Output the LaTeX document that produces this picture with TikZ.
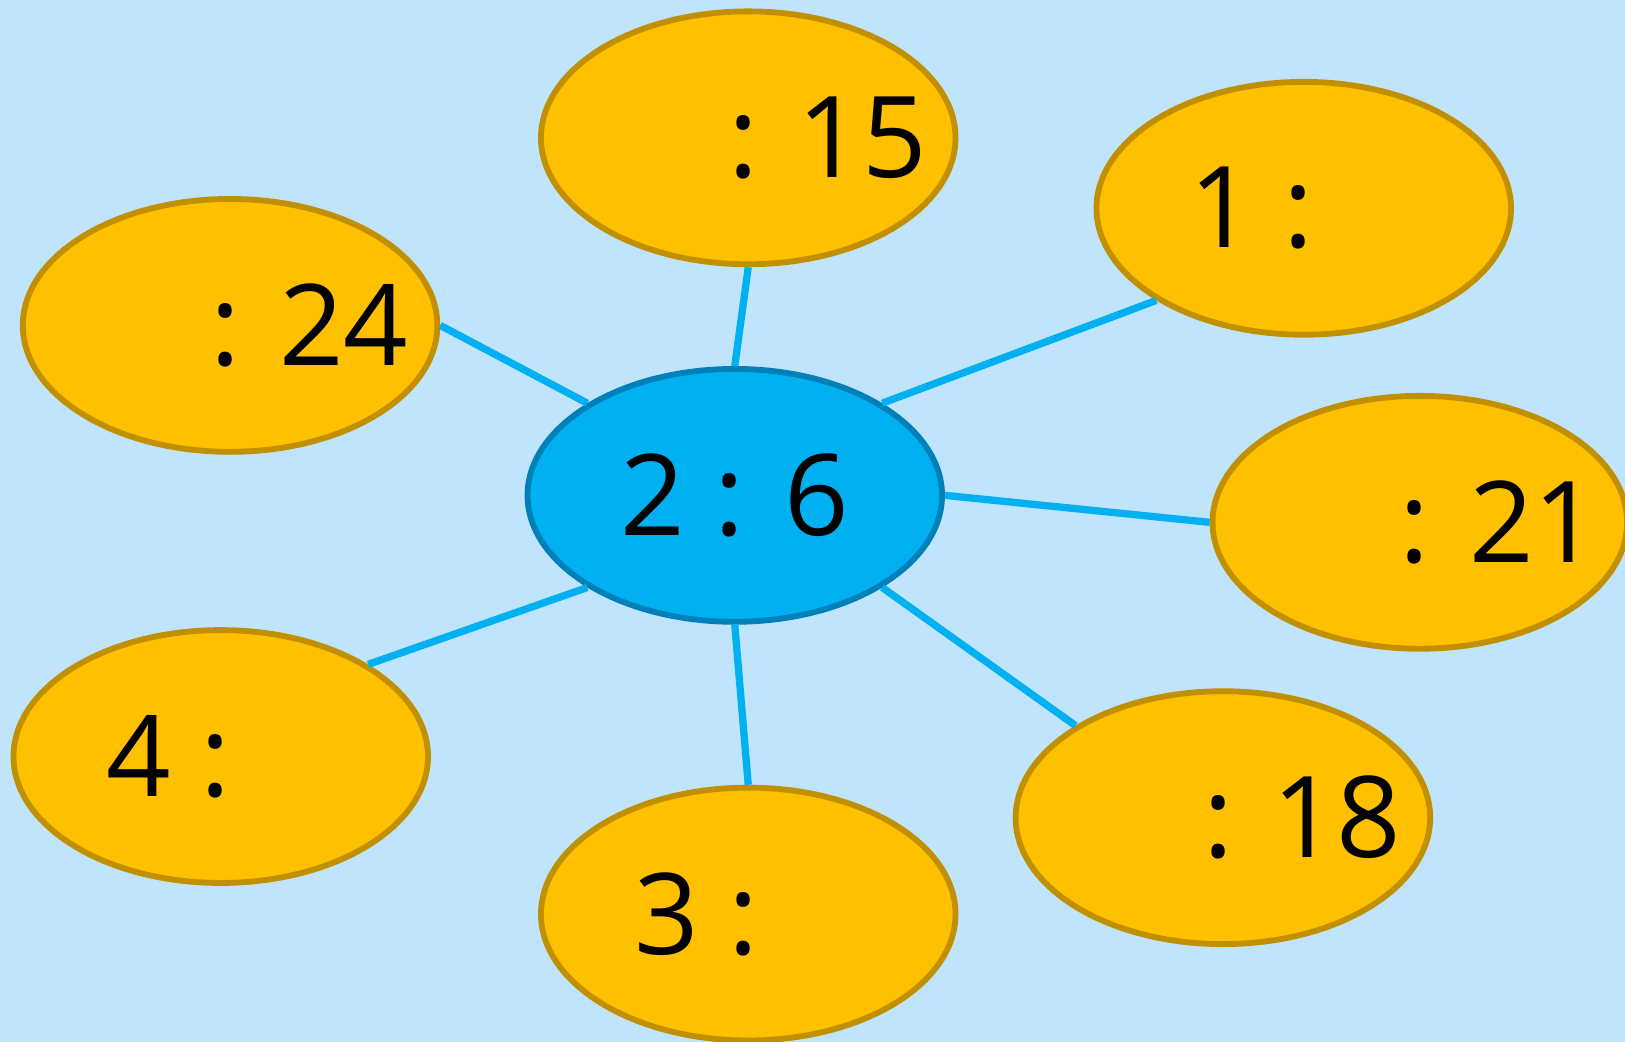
\documentclass[tikz,border=0pt]{standalone}
\usepackage{fontspec}
\setmainfont{Open Sans}
\usetikzlibrary{shapes.geometric}

\definecolor{bgblue}{HTML}{C0E4FC}
\definecolor{hubblue}{HTML}{00B0F0}
\definecolor{hubedge}{HTML}{0080B8}
\definecolor{leafgold}{HTML}{FFC000}
\definecolor{leafedge}{HTML}{C09000}

\newcommand{\lbl}[1]{\makebox[0pt]{#1}}

\tikzset{
  leaf/.style={ellipse, draw=leafedge, fill=leafgold, line width=1.6pt,
    minimum width=4cm, minimum height=2.44cm, inner sep=0pt,
    font=\fontsize{31}{36}\selectfont},
  hub/.style={leaf, draw=hubedge, fill=hubblue},
  spoke/.style={hubblue, line width=2pt}
}

\begin{document}
\begin{tikzpicture}
        % Background
        \fill[bgblue] (0,0) rectangle (15.68,10.05);
        \useasboundingbox (0,0) rectangle (15.68,10.05);

        % Points
        \coordinate (C) at (7.09,5.27);
        \coordinate (P15) at (7.22,8.72);
        \coordinate (P1) at (12.58,8.04);
        \coordinate (P24) at (2.22,6.91);
        \coordinate (P21) at (13.70,5.01);
        \coordinate (P18) at (11.80,2.16);
        \coordinate (P4) at (2.13,2.75);
        \coordinate (P3) at (7.22,1.23);

        % Nodes
        \node[hub] (hub) at (C) {\lbl{2 : 6}};
        \node[leaf] (n15) at (P15) {\lbl{\phantom{15} : 15}};
        \node[leaf] (n1) at (P1) {\lbl{1 : \phantom{1}}};
        \node[leaf] (n24) at (P24) {\lbl{\phantom{24} : 24}};
        \node[leaf] (n21) at (P21) {\lbl{\phantom{21} : 21}};
        \node[leaf] (n18) at (P18) {\lbl{\phantom{18} : 18}};
        \node[leaf] (n4) at (P4) {\lbl{4 : \phantom{4}}};
        \node[leaf] (n3) at (P3) {\lbl{3 : \phantom{3}}};

        % Spokes
        \draw[spoke] (hub.north) -- (n15.south);
        \draw[spoke] (hub.32) -- (n1.212);
        \draw[spoke] (hub.148) -- (n24.east);
        \draw[spoke] (hub.east) -- (n21.west);
        \draw[spoke] (hub.-32) -- (n18.148);
        \draw[spoke] (hub.212) -- (n4.32);
        \draw[spoke] (hub.south) -- (n3.north);
      \end{tikzpicture}
\end{document}
